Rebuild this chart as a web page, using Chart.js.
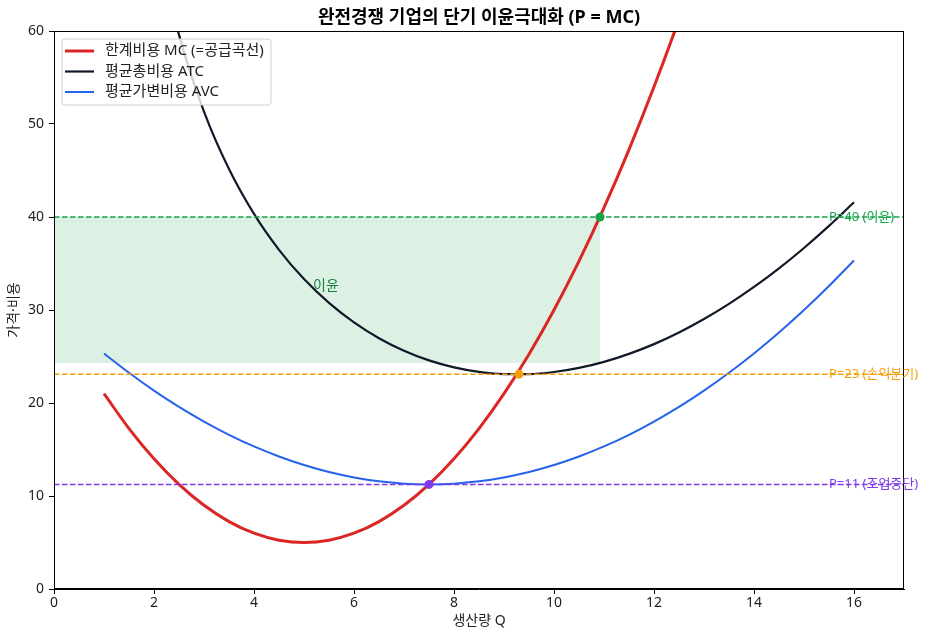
<!DOCTYPE html>
<html lang="ko">
<head>
<meta charset="utf-8">
<script src="https://cdn.jsdelivr.net/npm/chart.js@4.4.1/dist/chart.umd.min.js"></script>
<style>
  html, body { margin: 0; padding: 0; background: #fff; }
  #wrap { width: 930px; height: 640px; }
</style>
</head>
<body>
<div id="wrap"><canvas id="costChart" width="930" height="640"></canvas></div>
<script>
// quantities read along the x axis
const qValues = [1, 1.5, 2, 2.5, 3, 3.5, 4, 4.5, 5, 5.5, 6, 6.5, 7, 7.5, 8, 8.5,
  9, 9.5, 10, 10.5, 11, 11.5, 12, 12.5, 13, 13.5, 14, 14.5, 15, 15.5, 16];

// marginal cost (runs off the top after ~12.4)
const mcValues = [21, 17.25, 14, 11.25, 9, 7.25, 6, 5.25, 5, 5.25, 6, 7.25, 9, 11.25, 14, 17.25,
  21, 25.25, 30, 35.25, 41, 47.25, 54, 61.25, 69, 77.25, 86, 95.25, 105, 115.25, 126];

// average total cost
const atcValues = [125.33, 89.92, 71.33, 59.58, 51.33, 45.15, 40.33, 36.47, 33.33, 30.77, 28.67, 26.97, 25.62, 24.58, 23.83, 23.35,
  23.11, 23.11, 23.33, 23.77, 24.42, 25.28, 26.33, 27.58, 29.03, 30.66, 32.48, 34.48, 36.67, 39.04, 41.58];

// average variable cost
const avcValues = [25.33, 23.25, 21.33, 19.58, 18.0, 16.58, 15.33, 14.25, 13.33, 12.58, 12.0, 11.58, 11.33, 11.25, 11.33, 11.58,
  12.0, 12.58, 13.33, 14.25, 15.33, 16.58, 18.0, 19.58, 21.33, 23.25, 25.33, 27.58, 30.0, 32.58, 35.33];

// price levels and their labels
const priceLevels = [40, 23.1, 11.25];
const priceLabels = ['P=40 (이윤)', 'P=23 (손익분기)', 'P=11 (조업중단)'];
const priceColors = ['#16a34a', '#f59e0b', '#7c3aed'];

// MC = P points
const markerQ = [10.92, 9.3, 7.5];
const markerP = [40, 23.1, 11.25];

// profit rectangle
const profitQ = 10.92;
const profitTop = 40;
const profitBottom = 24.3;

const fontFamily = "'Noto Sans', 'Noto Sans CJK KR', sans-serif";
Chart.defaults.font.family = fontFamily;
Chart.defaults.color = '#222';

const toXY = (xs, ys) => xs.map((q, i) => ({x: q, y: ys[i]}));

const curves = [
  {label: '한계비용 MC (=공급곡선)', data: toXY(qValues, mcValues), borderColor: '#dc2626', borderWidth: 3, order: 2},
  {label: '평균총비용 ATC', data: toXY(qValues, atcValues), borderColor: '#111827', borderWidth: 2.2, order: 3},
  {label: '평균가변비용 AVC', data: toXY(qValues, avcValues), borderColor: '#2563eb', borderWidth: 2, order: 4}
];

const datasets = [];

// markers on top
datasets.push({
  data: toXY(markerQ, markerP),
  showLine: false,
  pointRadius: 4.5,
  pointBackgroundColor: priceColors,
  pointBorderWidth: 0,
  order: 0
});

// dashed price lines
priceLevels.forEach((p, i) => {
  datasets.push({
    data: [{x: 0, y: p}, {x: 17, y: p}],
    borderColor: priceColors[i],
    borderWidth: 1.5,
    borderDash: [5.5, 2.5],
    pointRadius: 0,
    order: 1
  });
});

curves.forEach(c => {
  datasets.push(Object.assign({
    pointRadius: 0,
    cubicInterpolationMode: 'monotone',
    fill: false
  }, c));
});

// profit area
datasets.push({
  data: [{x: 0, y: profitTop}, {x: profitQ, y: profitTop}],
  borderWidth: 0,
  borderColor: 'rgba(0,0,0,0)',
  backgroundColor: 'rgba(22,163,74,0.15)',
  pointRadius: 0,
  fill: {value: profitBottom},
  order: 9
});

const overlay = {
  id: 'overlay',
  afterDraw(chart) {
    const {ctx, chartArea: a, scales: {x, y}} = chart;
    ctx.save();

    // frame around plot
    ctx.strokeStyle = '#000';
    ctx.lineWidth = 1;
    ctx.strokeRect(a.left + 0.5, a.top + 0.5, a.right - a.left - 1, a.bottom - a.top - 1);

    // price labels
    ctx.font = '13px ' + fontFamily;
    ctx.textAlign = 'left';
    ctx.textBaseline = 'middle';
    priceLevels.forEach((p, i) => {
      ctx.fillStyle = priceColors[i];
      ctx.fillText(priceLabels[i], x.getPixelForValue(15.5), y.getPixelForValue(p));
    });

    // profit text
    ctx.font = '14px ' + fontFamily;
    ctx.fillStyle = '#15803d';
    ctx.fillText('이윤', x.getPixelForValue(5.18), y.getPixelForValue(32.6));

    // legend
    const bx = a.left + 8, by = a.top + 8, bw = 209, bh = 66;
    ctx.fillStyle = 'rgba(255,255,255,0.8)';
    ctx.strokeStyle = '#d0d0d0';
    ctx.lineWidth = 1;
    ctx.beginPath();
    ctx.roundRect(bx, by, bw, bh, 3);
    ctx.fill();
    ctx.stroke();
    ctx.font = '15px ' + fontFamily;
    curves.forEach((c, i) => {
      const ly = by + 12 + i * 20.5;
      ctx.strokeStyle = c.borderColor;
      ctx.lineWidth = c.borderWidth;
      ctx.beginPath();
      ctx.moveTo(bx + 3, ly);
      ctx.lineTo(bx + 32, ly);
      ctx.stroke();
      ctx.fillStyle = '#222';
      ctx.fillText(c.label, bx + 43, ly);
    });

    ctx.restore();
  }
};

new Chart(document.getElementById('costChart'), {
  type: 'line',
  data: {datasets: datasets},
  options: {
    responsive: false,
    animation: false,
    devicePixelRatio: 1,
    layout: {padding: {left: 0, right: 26, top: 0, bottom: 0}},
    plugins: {
      legend: {display: false},
      tooltip: {enabled: false},
      title: {
        display: true,
        fullSize: false,
        text: '완전경쟁 기업의 단기 이윤극대화 (P = MC)',
        color: '#000',
        font: {size: 18, weight: 'bold'},
        padding: {top: 7, bottom: 2.4}
      }
    },
    scales: {
      x: {
        type: 'linear',
        min: 0,
        max: 17,
        grid: {drawOnChartArea: false, drawTicks: true, tickLength: 5, color: '#000'},
        border: {display: true, color: '#000'},
        ticks: {stepSize: 2, includeBounds: false, padding: 1, font: {size: 14}, color: '#222'},
        title: {display: true, text: '생산량 Q', font: {size: 14}, color: '#222', padding: {top: 0, bottom: 11}},
        afterFit(scale) { scale.height = 51; }
      },
      y: {
        min: 0,
        max: 60,
        grid: {drawOnChartArea: false, drawTicks: true, tickLength: 5, color: '#000'},
        border: {display: true, color: '#000'},
        ticks: {stepSize: 10, padding: 5, font: {size: 14}, color: '#222'},
        title: {display: true, text: '가격·비용', font: {size: 14}, color: '#222', padding: {top: 6, bottom: 0}},
        afterFit(scale) { scale.width = 54; }
      }
    }
  },
  plugins: [overlay]
});
</script>
</body>
</html>
